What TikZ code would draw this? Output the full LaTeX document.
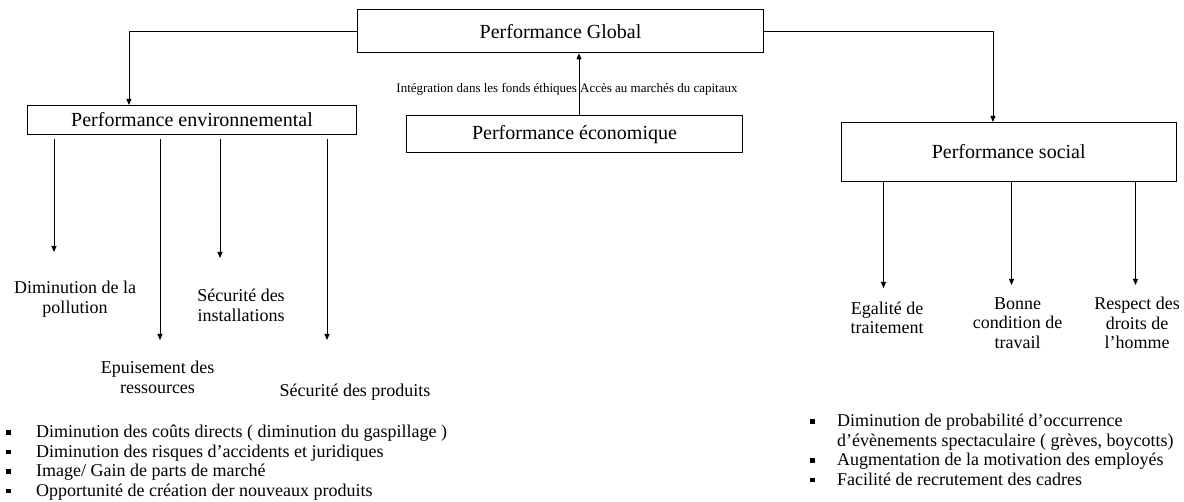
\documentclass[tikz,border=0pt]{standalone}
\usepackage{fontspec}
\setmainfont{Liberation Serif}
\usetikzlibrary{arrows.meta}
\newcommand{\bsq}[1]{\makebox[#1][l]{\raisebox{2.8pt}{\rule{4.5pt}{4.5pt}}}}
\begin{document}
\begin{tikzpicture}[x=1pt,y=-1pt,
  box/.style={draw, line width=1.1pt, inner sep=0pt, font=\fontsize{20}{24}\selectfont},
  arr/.style={-{Triangle[length=6pt,width=5pt]}, line width=0.9pt},
  lbl/.style={align=center, inner sep=0pt, font=\fontsize{18}{19.5}\selectfont},
  lst/.style={align=left, inner sep=0pt, anchor=north west, font=\fontsize{18}{19.5}\selectfont},
  small/.style={inner sep=0pt, font=\fontsize{13}{15}\selectfont}]
\useasboundingbox (0,0) rectangle (1184,502);
% boxes
\node[box, minimum width=406pt, minimum height=43pt] (G) at (560.5,31.3) {Performance Global};
\node[box, minimum width=329pt, minimum height=29pt] (E) at (192,120) {Performance environnemental};
\node[box, minimum width=336pt, minimum height=37pt] (C) at (574.5,134.3) {Performance économique};
\node[box, minimum width=335pt, minimum height=59pt] (S) at (1008.7,152) {Performance social};
% top connectors
\draw[arr] (G.west) -| ([xshift=102pt]E.north west);
\draw[arr] (G.east) -| ([xshift=152.3pt]S.north west);
\node[small] (lab) at (567,89.3) {Intégration dans les fonds éthiques Accès au marchés du capitaux};
\draw[arr] ([xshift=4.5pt]C.north) -- ([xshift=4.5pt]C.north |- G.south);
% environmental arrows
\coordinate (e1) at (54,252);
\coordinate (e2) at (160,340);
\coordinate (e3) at (220,258);
\coordinate (e4) at (327,340);
\foreach \e in {e1,e2,e3,e4}{
  \draw[arr] ([yshift=-4pt]E.south -| \e) -- (\e);
}
\node[lbl] (d1) at (75,299) {Diminution de la\\pollution};
\node[lbl] (d2) at (241,305.5) {Sécurité des\\installations};
\node[lbl] (d3) at (157.5,377.5) {Epuisement des\\ressources};
\node[lbl] (d4) at (355,392) {Sécurité des produits};
% social arrows
\coordinate (s1) at (883.5,288);
\coordinate (s2) at (1011.5,285);
\coordinate (s3) at (1135.5,285);
\foreach \s in {s1,s2,s3}{
  \draw[arr] (S.south -| \s) -- (\s);
}
\node[lbl] (t1) at (887,318) {Egalité de\\traitement};
\node[lbl] (t2) at (1017.5,323) {Bonne\\condition de\\travail};
\node[lbl] (t3) at (1137,323) {Respect des\\droits de\\l’homme};
% lists
\node[lst] (L) at (6,425) {\bsq{30pt}Diminution des coûts directs ( diminution du gaspillage )\\
\bsq{30pt}Diminution des risques d’accidents et juridiques\\
\bsq{30pt}Image/ Gain de parts de marché\\
\bsq{30pt}Opportunité de création der nouveaux produits};
\node[lst] (R) at (810,414) {\bsq{27pt}Diminution de probabilité d’occurrence\\
\makebox[27pt]{}d’évènements spectaculaire ( grèves, boycotts)\\
\bsq{27pt}Augmentation de la motivation des employés\\
\bsq{27pt}Facilité de recrutement des cadres};
\end{tikzpicture}
\end{document}
